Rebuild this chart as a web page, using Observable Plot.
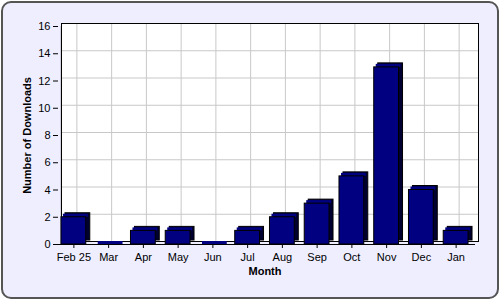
<!DOCTYPE html>
<html>
<head>
<meta charset="utf-8">
<script src="https://cdn.jsdelivr.net/npm/d3@7"></script>
<script src="https://cdn.jsdelivr.net/npm/@observablehq/plot@0.6"></script>
<style>
  html, body { margin: 0; padding: 0; background: #ffffff; }
  #wrap { position: relative; width: 500px; height: 300px; }
  #frame { position: absolute; left: 1px; top: 1px; width: 494px; height: 294px;
           border: 2px solid #555; border-radius: 10px; background: #eeeeff; }
  #chart { position: absolute; left: 0; top: 0; }
</style>
</head>
<body>
<div id="wrap"><div id="frame"></div><div id="chart"></div></div>
<script>
const months = ["Feb 25", "Mar", "Apr", "May", "Jun", "Jul", "Aug", "Sep", "Oct", "Nov", "Dec", "Jan"];
const downloads = [2, 0, 1, 1, 0, 1, 2, 3, 5, 13, 4, 1];
const yTicks = [0, 2, 4, 6, 8, 10, 12, 14, 16];

const data = months.map((m, i) => ({month: m, value: downloads[i]}));

const chart = Plot.plot({
  width: 500,
  height: 300,
  marginLeft: 58,
  marginRight: 25,
  marginTop: 26,
  marginBottom: 56,
  style: {background: "transparent", fontFamily: "'Liberation Sans', Arial, sans-serif", fontSize: "11px", color: "#000"},
  x: {domain: months, paddingInner: 0.1714, paddingOuter: 0.0857, round: false, label: null, axis: null},
  y: {domain: [0, 16], label: null, axis: null},
  marks: [
    Plot.frame({fill: "white", dx: 3, dy: -3}),
    Plot.gridY(yTicks, {stroke: "#c8c8c8", strokeOpacity: 1, dx: 3, dy: -3}),
    Plot.gridX(months, {stroke: "#c8c8c8", strokeOpacity: 1, dx: 1, dy: -3}),
    Plot.frame({stroke: "black", dx: 3, dy: -3}),
    Plot.ruleY([0], {stroke: "black"}),
    Plot.axisY(yTicks, {tickSize: 5, tickPadding: 3, fontSize: 11, stroke: "black"}),
    Plot.ruleX([0], {x: () => months[0], dx: -14.5, y1: 0, y2: 16, stroke: "black"}),
    Plot.axisX({tickSize: 4, tickPadding: 5, fontSize: 11, dx: -2, stroke: "black"}),
    Plot.barY(data, {x: "month", y: "value", insetRight: 4, dx: 4, dy: -4, fill: "#000030", stroke: "black", strokeWidth: 1}),
    Plot.tickY(data, {x: "month", y: "value", insetRight: 4, dx: 2, dy: -2, stroke: "#000080", strokeWidth: 3}),
    Plot.barY(data, {x: "month", y: "value", insetRight: 4, fill: "#000080", stroke: "black", strokeWidth: 1}),
    Plot.text(["Month"], {frameAnchor: "bottom", text: d => d, dy: 30, dx: -2, fontWeight: "bold", fontSize: 11}),
    Plot.text(["Number of Downloads"], {frameAnchor: "left", textAnchor: "middle", text: d => d, rotate: -90, dx: -31, fontWeight: "bold", fontSize: 11})
  ]
});
document.getElementById("chart").appendChild(chart);
</script>
</body>
</html>
